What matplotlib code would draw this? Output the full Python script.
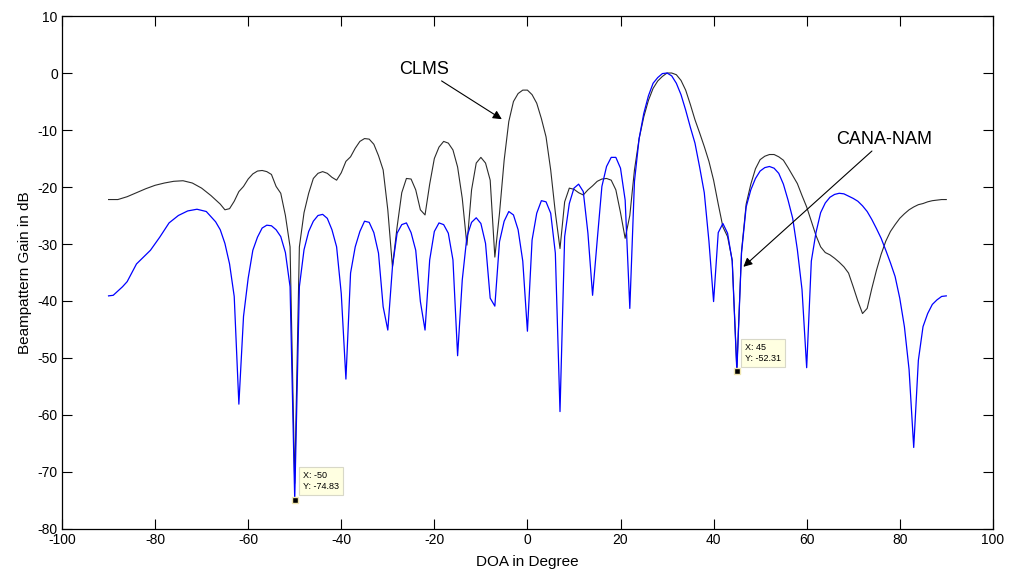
import matplotlib
matplotlib.use('Agg')
import matplotlib.pyplot as plt

plt.rcParams['font.family'] = ['Liberation Sans', 'DejaVu Sans']
plt.rcParams['axes.unicode_minus'] = False

# CANA-NAM beampattern (dB) at DOA angles
cana_doa = [-90, -89, -87, -86, -84, -81, -79, -77, -75, -73, -71, -69, -67, -66, -65, -64, -63,
            -62, -61, -60, -59, -58, -57, -56, -55, -54, -53, -52, -51, -50, -49, -48, -47, -46,
            -45, -44, -43, -42, -41, -40, -39, -38, -37, -36, -35, -34, -33, -32, -31, -30, -29,
            -28, -27, -26, -25, -24, -23, -22, -21, -20, -19, -18, -17, -16, -15, -14, -13, -12,
            -11, -10, -9, -8, -7, -6, -5, -4, -3, -2, -1, 0, 1, 2, 3, 4, 5, 6, 7, 8, 9, 10, 11,
            12, 13, 14, 15, 16, 17, 18, 19, 20, 21, 22, 23, 24, 25, 26, 27, 28, 29, 30, 31, 32,
            33, 34, 35, 36, 37, 38, 39, 40, 41, 42, 43, 44, 45, 46, 47, 48, 49, 50, 51, 52, 53,
            54, 55, 56, 57, 58, 59, 60, 61, 62, 63, 64, 65, 66, 67, 68, 69, 70, 71, 72, 73, 74,
            75, 76, 77, 78, 79, 80, 81, 82, 83, 84, 85, 86, 87, 88, 89, 90]
cana_gain = [-39.1, -39.0, -37.5, -36.6, -33.5, -31.1, -28.8, -26.3, -25.0, -24.2, -23.9, -24.3,
             -26.1, -27.5, -29.9, -33.5, -39.2, -58.1, -42.7, -36.0, -31.1, -28.8, -27.2, -26.7,
             -26.8, -27.5, -28.7, -31.5, -37.5, -74.83, -37.5, -31.0, -27.8, -26.0, -25.0, -24.8,
             -25.5, -27.5, -30.5, -38.7, -53.7, -35.1, -30.5, -27.8, -26.0, -26.2, -28.0, -31.6,
             -41.0, -45.1, -34.0, -28.1, -26.6, -26.3, -28.0, -31.1, -40.1, -45.1, -32.8, -27.8,
             -26.3, -26.6, -28.1, -32.8, -49.6, -36.3, -28.7, -26.2, -25.4, -26.4, -29.9, -39.5,
             -40.9, -29.6, -26.0, -24.3, -24.9, -27.5, -33.0, -45.3, -29.3, -24.6, -22.4, -22.6,
             -24.6, -31.6, -59.4, -28.7, -22.9, -20.2, -19.5, -20.8, -28.1, -39.0, -29.3, -19.9,
             -16.4, -14.8, -14.8, -16.7, -22.3, -41.3, -19.0, -11.5, -7.1, -4.0, -1.8, -0.8, -0.1,
             0.0, -0.5, -1.8, -3.8, -6.5, -9.5, -12.3, -16.5, -21.0, -29.5, -40.1, -28.0, -26.4,
             -28.1, -33.0, -52.31, -31.6, -23.5, -20.5, -18.5, -17.2, -16.6, -16.4, -16.7, -17.6,
             -19.5, -22.3, -25.5, -31.0, -38.0, -51.7, -33.0, -28.0, -24.5, -22.8, -21.8, -21.3,
             -21.1, -21.2, -21.6, -22.0, -22.5, -23.3, -24.3, -25.7, -27.3, -29.0, -31.1, -33.3,
             -35.7, -39.5, -44.5, -52.0, -65.7, -50.4, -44.5, -42.2, -40.6, -39.8, -39.2, -39.1]

# CLMS beampattern (dB) at DOA angles
clms_doa = [-90, -88, -86, -84, -82, -80, -78, -76, -74, -72, -70, -68, -66, -65, -64, -63, -62,
            -61, -60, -59, -58, -57, -56, -55, -54, -53, -52, -51, -50, -49, -48, -47, -46, -45,
            -44, -43, -42, -41, -40, -39, -38, -37, -36, -35, -34, -33, -32, -31, -30, -29, -28,
            -27, -26, -25, -24, -23, -22, -21, -20, -19, -18, -17, -16, -15, -14, -13, -12, -11,
            -10, -9, -8, -7, -6, -5, -4, -3, -2, -1, 0, 1, 2, 3, 4, 5, 6, 7, 8, 9, 10, 11, 12,
            13, 14, 15, 16, 17, 18, 19, 20, 21, 22, 23, 24, 25, 26, 27, 28, 29, 30, 31, 32, 33,
            34, 35, 36, 37, 38, 39, 40, 41, 42, 43, 44, 45, 46, 47, 48, 49, 50, 51, 52, 53, 54,
            55, 56, 57, 58, 59, 60, 61, 62, 63, 64, 65, 66, 67, 68, 69, 70, 71, 72, 73, 74, 75,
            76, 77, 78, 79, 80, 81, 82, 83, 84, 85, 86, 87, 88, 89, 90]
clms_gain = [-22.2, -22.2, -21.7, -21.0, -20.3, -19.7, -19.3, -19.0, -18.9, -19.3, -20.2, -21.5,
             -23.0, -24.0, -23.8, -22.5, -20.8, -19.9, -18.6, -17.7, -17.2, -17.1, -17.3, -17.8,
             -19.9, -21.1, -25.0, -30.5, -72.0, -30.5, -24.5, -21.1, -18.5, -17.6, -17.3, -17.6,
             -18.3, -18.8, -17.5, -15.5, -14.7, -13.2, -12.0, -11.5, -11.6, -12.5, -14.5, -17.0,
             -24.0, -34.0, -27.0, -21.0, -18.5, -18.6, -20.5, -24.0, -24.9, -19.5, -15.0, -13.0,
             -12.0, -12.3, -13.5, -16.5, -22.0, -30.2, -20.5, -15.8, -14.8, -15.8, -18.8, -32.3,
             -24.6, -15.3, -8.5, -5.0, -3.6, -3.0, -3.0, -3.8, -5.3, -8.0, -11.2, -17.0, -24.5,
             -30.8, -22.6, -20.2, -20.4, -21.0, -21.4, -20.5, -19.8, -19.0, -18.6, -18.5, -18.8,
             -20.5, -24.5, -29.0, -25.0, -17.0, -11.5, -7.7, -4.8, -2.7, -1.4, -0.6, 0.0, 0.0,
             -0.3, -1.3, -3.0, -5.5, -8.2, -10.5, -12.9, -15.5, -18.8, -23.0, -27.0, -28.7, -32.8,
             -52.0, -31.3, -23.0, -19.5, -16.8, -15.2, -14.6, -14.3, -14.3, -14.7, -15.3, -16.6,
             -18.0, -19.4, -21.5, -23.5, -26.0, -28.5, -30.5, -31.5, -31.9, -32.5, -33.2, -34.0,
             -35.1, -37.5, -40.0, -42.2, -41.3, -37.8, -34.6, -31.8, -29.5, -27.8, -26.6, -25.5,
             -24.7, -24.0, -23.5, -23.1, -22.9, -22.6, -22.4, -22.3, -22.2, -22.2]

# data cursor points
tip_x = [-50, 45]
tip_y = [-74.83, -52.31]

fig = plt.figure(figsize=(10.1, 5.72), dpi=100)
ax = fig.add_axes([0.0614, 0.0752, 0.9216, 0.8968])

ax.plot(clms_doa, clms_gain, color='#2b2b2b', lw=0.8)
ax.plot(cana_doa, cana_gain, color='#0000ff', lw=0.9)

# data tips
for tx, ty in zip(tip_x, tip_y):
    ax.plot(tx, ty, 's', color='black', markeredgecolor='#f0e6b0', markersize=5, zorder=5)
    ax.annotate('X: %g\nY: %.2f' % (tx, ty), xy=(tx, ty), xytext=(6, 6),
                textcoords='offset points', fontsize=6.5, va='bottom', ha='left',
                linespacing=1.3,
                bbox=dict(boxstyle='square,pad=0.45', fc='#ffffe1', ec='#d8d8c8', lw=0.8))

ax.annotate('CLMS', xy=(-5.5, -8.1), xytext=(-16.9, -0.9), fontsize=13,
            ha='right', va='bottom',
            arrowprops=dict(arrowstyle='-|>', color='black', lw=0.8, mutation_scale=13,
                            shrinkA=0, shrinkB=0))
ax.annotate('CANA-NAM', xy=(46.4, -34.0), xytext=(66.4, -13.2), fontsize=13,
            ha='left', va='bottom',
            arrowprops=dict(arrowstyle='-|>', color='black', lw=0.8, mutation_scale=13,
                            shrinkA=0, shrinkB=0))

ax.set_xlim(-100, 100)
ax.set_ylim(-80, 10)
ax.set_xticks(range(-100, 101, 20))
ax.set_yticks(range(-80, 11, 10))
ax.tick_params(direction='in', length=7, width=0.8, top=True, right=True,
               labelsize=10, pad=3)
for s in ax.spines.values():
    s.set_linewidth(0.9)
ax.set_xlabel('DOA in Degree', fontsize=11, labelpad=6)
ax.set_ylabel('Beampattern Gain in dB', fontsize=11, labelpad=4)

fig.savefig('out.png', dpi=100)
